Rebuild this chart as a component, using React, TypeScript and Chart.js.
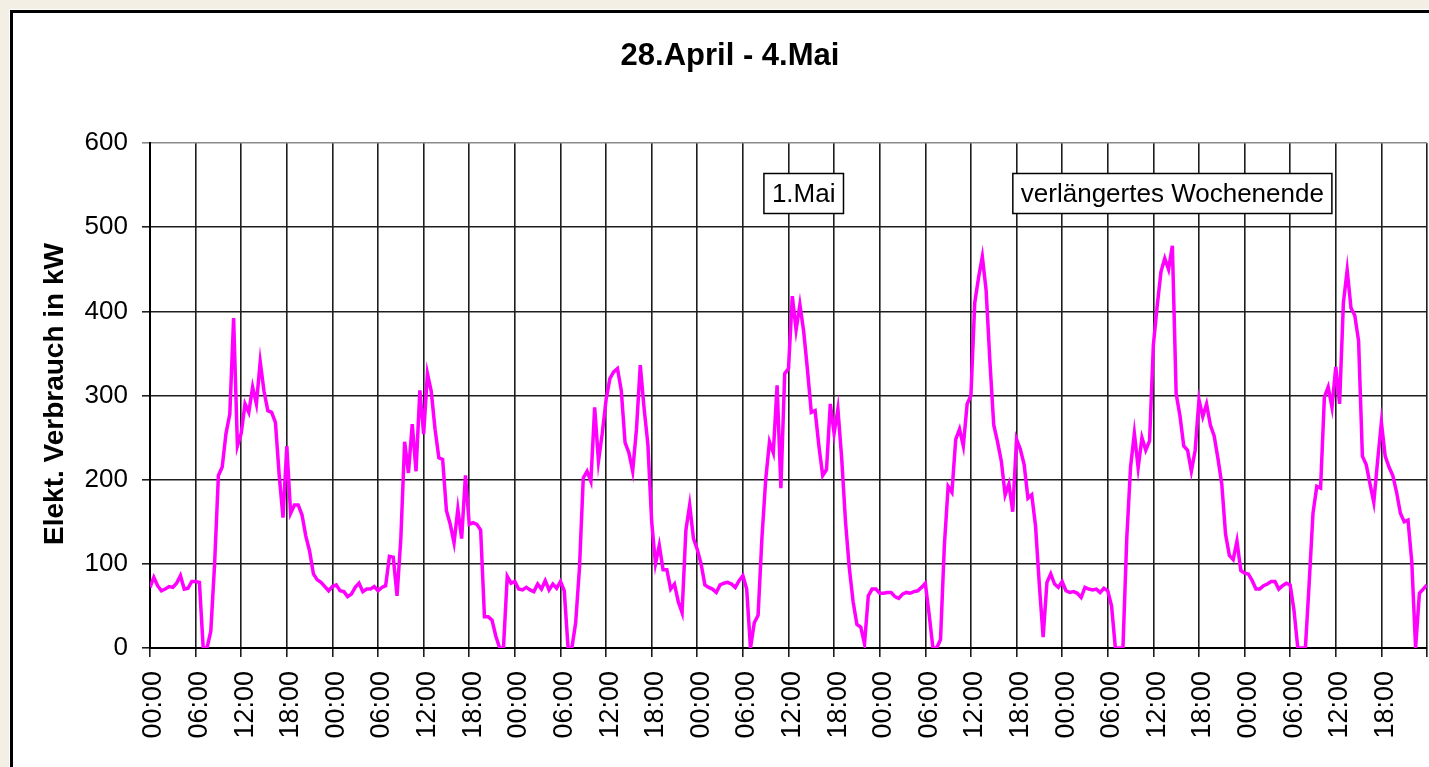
import { useEffect, useRef } from 'react';
import { Chart, registerables } from 'chart.js';

Chart.register(...registerables);

const chartTitle = '28.April - 4.Mai';
const yAxisTitle = 'Elekt. Verbrauch in kW';
const hourLabels = ['00:00', '06:00', '12:00', '18:00'];

// half-hourly values (kW), 48 per day, starting 00:00
const day1 = [72, 84, 74, 68, 70, 73, 72, 77, 86, 70, 71, 79, 79, 78, 0, 0, 20, 100, 205, 215, 255, 278, 392, 240, 255, 290, 280, 310, 290, 340, 305, 282, 280, 268, 205, 155, 240, 160, 170, 170, 158, 133, 115, 88, 81, 78, 73, 68];
const day2 = [73, 75, 68, 67, 61, 64, 72, 77, 67, 70, 70, 73, 68, 72, 74, 109, 108, 62, 130, 245, 208, 266, 210, 306, 254, 326, 305, 260, 226, 224, 163, 147, 125, 165, 130, 205, 147, 149, 147, 140, 37, 37, 33, 14, 0, 0, 85, 77];
const day3 = [79, 70, 69, 72, 69, 67, 76, 70, 80, 69, 76, 71, 79, 68, 0, 0, 30, 95, 202, 210, 198, 286, 222, 255, 295, 320, 328, 332, 306, 244, 232, 210, 260, 336, 285, 242, 150, 100, 122, 93, 93, 70, 76, 55, 42, 140, 170, 130];
const day4 = [117, 100, 75, 72, 70, 66, 75, 77, 78, 76, 72, 80, 86, 70, 0, 30, 39, 130, 200, 245, 232, 312, 190, 326, 332, 418, 378, 408, 376, 330, 280, 282, 240, 205, 212, 290, 255, 284, 225, 150, 95, 55, 28, 25, 5, 62, 70, 70];
const day5 = [65, 65, 66, 66, 61, 59, 64, 66, 65, 67, 68, 72, 77, 40, 0, 0, 10, 121, 192, 185, 248, 260, 240, 290, 300, 410, 440, 465, 425, 340, 265, 245, 222, 182, 195, 162, 248, 236, 218, 178, 182, 145, 75, 13, 78, 88, 76, 72];
const day6 = [79, 68, 66, 67, 65, 60, 72, 70, 69, 70, 66, 71, 68, 50, 0, 0, 0, 130, 215, 255, 214, 250, 235, 246, 360, 406, 447, 463, 450, 478, 302, 276, 240, 235, 210, 235, 295, 275, 290, 265, 252, 225, 195, 135, 110, 105, 127, 92];
const day7 = [89, 88, 80, 70, 70, 74, 76, 79, 79, 70, 74, 77, 75, 45, 0, 0, 0, 77, 160, 192, 190, 298, 310, 286, 334, 290, 410, 449, 404, 395, 365, 228, 218, 195, 173, 222, 268, 228, 215, 205, 185, 160, 150, 152, 102, 0, 65, 70];
const weekEndValue = 75;

const annotationTexts = ['1.Mai', 'verlängertes Wochenende'];
const annotationHours = [86, 134.5];
const annotationValues = [540, 540];

const FONT = '"Liberation Sans", Arial, Helvetica, sans-serif';

export default function App() {
  const canvasRef = useRef<HTMLCanvasElement | null>(null);

  useEffect(() => {
    const canvas = canvasRef.current;
    if (!canvas) return;
    const days = [day1, day2, day3, day4, day5, day6, day7];
    const points = days.flatMap((d, di) => d.map((v, i) => ({ x: di * 24 + i * 0.5, y: v })));
    points.push({ x: 168, y: weekEndValue });

    const decor = {
      id: 'decor',
      afterDraw(chart: any) {
        const ctx = chart.ctx;
        ctx.save();
        ctx.fillStyle = '#000';
        ctx.font = `bold 31px ${FONT}`;
        ctx.textAlign = 'center';
        ctx.textBaseline = 'alphabetic';
        ctx.fillText(chartTitle, 730, 65);
        ctx.save();
        ctx.translate(63, 394);
        ctx.rotate(-Math.PI / 2);
        ctx.font = `bold 28px ${FONT}`;
        ctx.textAlign = 'center';
        ctx.textBaseline = 'alphabetic';
        ctx.fillText(yAxisTitle, 0, 0);
        ctx.restore();
        const xs = chart.scales.x;
        const ys = chart.scales.y;
        ctx.font = `26px ${FONT}`;
        annotationTexts.forEach((t, i) => {
          const cx = xs.getPixelForValue(annotationHours[i]);
          const cy = ys.getPixelForValue(annotationValues[i]);
          const w = ctx.measureText(t).width + 16;
          const h = 40;
          ctx.fillStyle = '#fff';
          ctx.fillRect(cx - w / 2, cy - h / 2, w, h);
          ctx.strokeStyle = '#000';
          ctx.lineWidth = 1.5;
          ctx.strokeRect(cx - w / 2, cy - h / 2, w, h);
          ctx.fillStyle = '#000';
          ctx.textAlign = 'center';
          ctx.textBaseline = 'middle';
          ctx.fillText(t, cx, cy + 1);
        });
        ctx.restore();
      },
    };

    const chart = new Chart(canvas, {
      type: 'line',
      data: {
        datasets: [
          {
            data: points,
            borderColor: '#ff00ff',
            borderWidth: 3.5,
            pointRadius: 0,
            tension: 0,
            fill: false,
          },
        ],
      },
      options: {
        animation: false,
        responsive: false,
        maintainAspectRatio: false,
        layout: { padding: { left: 0, right: 2, top: 143, bottom: 0 } },
        plugins: { legend: { display: false }, tooltip: { enabled: false }, title: { display: false } },
        scales: {
          x: {
            type: 'linear',
            min: 0,
            max: 168,
            afterFit(scale: any) {
              scale.height = 119;
              scale.paddingLeft = 0;
              scale.paddingRight = 0;
            },
            ticks: {
              stepSize: 6,
              autoSkip: false,
              maxRotation: 90,
              minRotation: 90,
              padding: 14,
              labelOffset: 4,
              color: '#000',
              font: { size: 27, family: FONT },
              callback: (v: any) => (Number(v) >= 168 ? '' : hourLabels[Math.round(Number(v) / 6) % 4]),
            },
            grid: { color: '#1e1e1e', lineWidth: 1.6, tickLength: 9, drawTicks: true },
            border: { display: true, color: '#000', width: 2 },
          },
          y: {
            min: 0,
            max: 600,
            afterFit(scale: any) {
              scale.width = 150;
              scale.paddingTop = 0;
              scale.paddingBottom = 0;
            },
            ticks: { stepSize: 100, padding: 14, color: '#000', font: { size: 26, family: FONT } },
            grid: {
              color: (c: any) => (c.tick && c.tick.value === 600 ? '#8a8a8a' : '#1e1e1e'),
              lineWidth: 1.6,
              tickLength: 8,
            },
            border: { display: true, color: '#000', width: 2 },
          },
        },
      },
      plugins: [decor],
    });
    return () => chart.destroy();
  }, []);

  return (
    <div style={{ position: 'fixed', left: 0, top: 0, width: '100vw', height: '100vh', background: '#f3efe4', overflow: 'hidden' }}>
      <div
        style={{
          position: 'absolute',
          left: 10,
          top: 10,
          width: 1500,
          height: 820,
          border: '3px solid #000',
          background: '#fff',
          boxShadow: '0 0 0 1px #fff',
        }}
      />
      <canvas ref={canvasRef} width={1429} height={767} style={{ position: 'absolute', left: 0, top: 0, display: 'block' }} />
    </div>
  );
}
